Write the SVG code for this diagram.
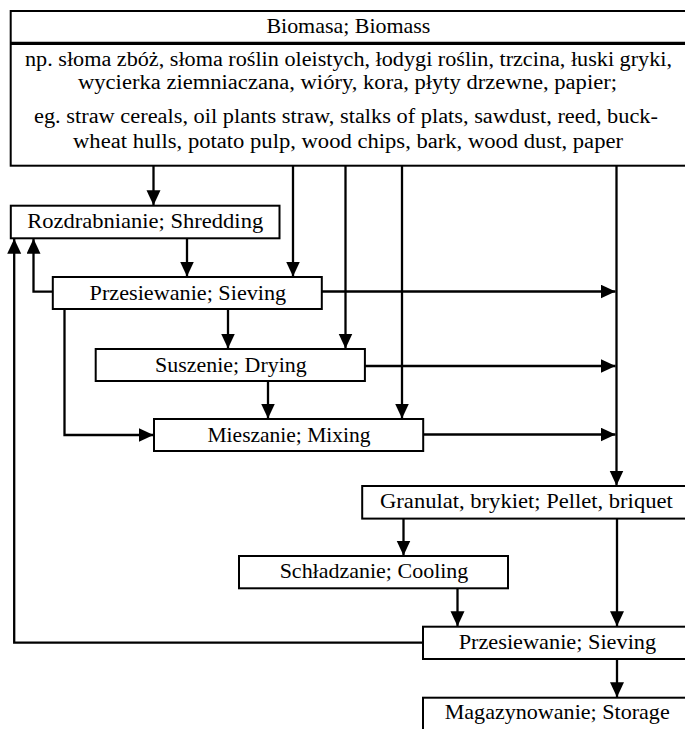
<svg xmlns="http://www.w3.org/2000/svg" width="685" height="729" viewBox="0 0 685 729">
<defs>
<style>
.box{fill:#fff;stroke:#000;stroke-width:2}
.sep{stroke:#000;stroke-width:3.2}
.t{font-family:"Liberation Serif","Times New Roman",serif;font-size:22px;fill:#000;text-anchor:middle}
.s{font-size:20px}
.c{fill:none;stroke:#000;stroke-width:2.3}
.a{marker-end:url(#ah)}
</style>
<marker id="ah" markerUnits="userSpaceOnUse" markerWidth="16" markerHeight="15" refX="15" refY="7" orient="auto" viewBox="0 0 16 15">
<path d="M0,0 L15,7 L0,14 z" fill="#000"/>
</marker>
</defs>
<rect width="685" height="729" fill="#fff"/>

<g id="connectors">
<line class="c a" x1="153.5" y1="165.7" x2="153.5" y2="205.2"/>
<line class="c a" x1="293" y1="165.7" x2="293" y2="276.5"/>
<line class="c a" x1="345.5" y1="165.7" x2="345.5" y2="348.5"/>
<line class="c a" x1="402" y1="165.7" x2="402" y2="418.5"/>
<line class="c a" x1="616.5" y1="165.7" x2="616.5" y2="485.5"/>
<line class="c a" x1="187" y1="238.3" x2="187" y2="276.5"/>
<polyline class="c a" points="52.8,291.7 33.5,291.7 33.5,238.8"/>
<line class="c a" x1="321.8" y1="291.5" x2="615.5" y2="291.5"/>
<line class="c a" x1="228" y1="309" x2="228" y2="348.5"/>
<polyline class="c a" points="64.5,309 64.5,435 153.5,435"/>
<line class="c a" x1="365" y1="366" x2="615.5" y2="366"/>
<line class="c a" x1="268" y1="381" x2="268" y2="418.5"/>
<line class="c a" x1="423" y1="434.5" x2="615.5" y2="434.5"/>
<line class="c a" x1="403.5" y1="518.7" x2="403.5" y2="555.5"/>
<line class="c a" x1="617" y1="518.7" x2="617" y2="626.2"/>
<line class="c a" x1="457.5" y1="588.3" x2="457.5" y2="626.2"/>
<polyline class="c a" points="423,642.7 14.2,642.7 14.2,238.8"/>
<line class="c a" x1="617" y1="659" x2="617" y2="697.2"/>
</g>

<g id="biomass">
<rect class="box" x="10.7" y="11" width="676" height="154.7"/>
<line class="sep" x1="10.7" y1="43.3" x2="686.7" y2="43.3"/>
<text class="t" x="348.4" y="33" textLength="164" lengthAdjust="spacingAndGlyphs">Biomasa; Biomass</text>
<text class="t s" x="348.5" y="65.5" textLength="647" lengthAdjust="spacingAndGlyphs">np. słoma zbóż, słoma roślin oleistych, łodygi roślin, trzcina, łuski gryki,</text>
<text class="t s" x="347.5" y="88.5" textLength="539" lengthAdjust="spacingAndGlyphs">wycierka ziemniaczana, wióry, kora, płyty drzewne, papier;</text>
<text class="t s" x="346" y="123" textLength="624" lengthAdjust="spacingAndGlyphs">eg. straw cereals, oil plants straw, stalks of plats, sawdust, reed, buck-</text>
<text class="t s" x="348" y="147.5" textLength="550" lengthAdjust="spacingAndGlyphs">wheat hulls, potato pulp, wood chips, bark, wood dust, paper</text>
</g>

<g id="shredding">
<rect class="box" x="10.8" y="205.7" width="268.7" height="32.6"/>
<text class="t" x="145.2" y="228.3" textLength="236" lengthAdjust="spacingAndGlyphs">Rozdrabnianie; Shredding</text>
</g>

<g id="sieving1">
<rect class="box" x="52.8" y="277" width="269" height="32"/>
<text class="t" x="187.9" y="299.5" textLength="196.6" lengthAdjust="spacingAndGlyphs">Przesiewanie; Sieving</text>
</g>

<g id="drying">
<rect class="box" x="95.7" y="349" width="269.2" height="32"/>
<text class="t" x="230.9" y="371.5" textLength="151.6" lengthAdjust="spacingAndGlyphs">Suszenie; Drying</text>
</g>

<g id="mixing">
<rect class="box" x="154" y="419" width="269.2" height="32"/>
<text class="t" x="289" y="441.5" textLength="163" lengthAdjust="spacingAndGlyphs">Mieszanie; Mixing</text>
</g>

<g id="pellet">
<rect class="box" x="362.2" y="486" width="328.4" height="32.6"/>
<text class="t" x="526.4" y="508" textLength="292.7" lengthAdjust="spacingAndGlyphs">Granulat, brykiet; Pellet, briquet</text>
</g>

<g id="cooling">
<rect class="box" x="239" y="556" width="269" height="32.3"/>
<text class="t" x="374" y="578.4" textLength="188.7" lengthAdjust="spacingAndGlyphs">Schładzanie; Cooling</text>
</g>

<g id="sieving2">
<rect class="box" x="423" y="626.7" width="269" height="32.3"/>
<text class="t" x="557.4" y="648.6" textLength="197.5" lengthAdjust="spacingAndGlyphs">Przesiewanie; Sieving</text>
</g>

<g id="storage">
<rect class="box" x="423" y="697.7" width="269" height="40"/>
<text class="t" x="557.2" y="718.5" textLength="225" lengthAdjust="spacingAndGlyphs">Magazynowanie; Storage</text>
</g>
</svg>
